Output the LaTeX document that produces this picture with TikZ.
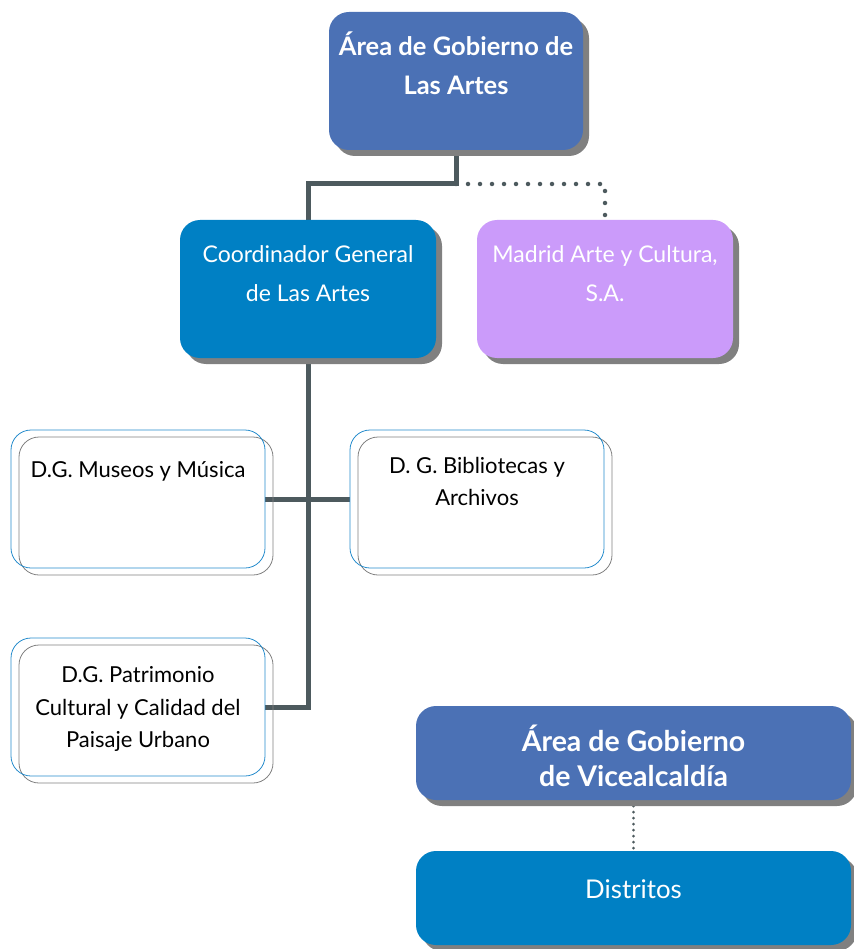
\documentclass[tikz,border=0pt]{standalone}
\usepackage{fontspec}
\setmainfont{Lato}
\usetikzlibrary{shadows,backgrounds,positioning}
\definecolor{govblue}{RGB}{75,113,181}
\definecolor{coordblue}{RGB}{0,128,196}
\definecolor{lilac}{RGB}{203,155,250}
\definecolor{shadowgray}{RGB}{128,128,128}
\definecolor{linegray}{RGB}{77,90,94}
\definecolor{rimblue}{RGB}{38,140,204}
\tikzset{
    unit/.style={rectangle, rounded corners=20pt, inner sep=0pt, align=center, text=white,
        drop shadow={shadow xshift=6pt, shadow yshift=-6pt, fill=shadowgray, opacity=1}},
    area/.style={unit, fill=govblue, font=\fontsize{25.5}{39}\selectfont\bfseries},
    office/.style={unit, fill=coordblue, font=\fontsize{23}{39}\selectfont},
    dept/.style={rectangle, rounded corners=20pt, inner sep=0pt, align=center, draw=rimblue, line width=0.8pt,
        minimum width=254pt, minimum height=138pt, font=\fontsize{22}{32.5}\selectfont,
        copy shadow={shadow xshift=8pt, shadow yshift=-7pt, draw=shadowgray, fill=none, line width=0.8pt}},
    lift/.style={text depth=#1},
    trunk/.style={draw=linegray, line width=5pt},
    dotline/.style={draw=linegray, line width=4.5pt, line cap=round, dash pattern=on 0pt off 12pt}
}
\begin{document}
\begin{tikzpicture}[x=1pt, y=-1pt]
    \useasboundingbox (0,0) rectangle (853,949);

    % Las Artes and the bodies under it
    \node [area, minimum width=254pt, minimum height=138pt, lift=36pt] (artes) at (456,81) {Área de Gobierno de\\Las Artes};
    \node [office, minimum width=256pt, minimum height=138pt, lift=30pt] (coord) at (308,289) {Coordinador General\\de Las Artes};
    \node [office, fill=lilac, minimum width=256pt, minimum height=138pt, lift=30pt] (madrid) at (605,289) {Madrid Arte y Cultura,\\S.A.};

    % Directorates
    \node [dept, lift=60pt] (museos) at (138,499) {D.G. Museos y Música};
    \node [dept, lift=35pt] (biblio) at (477,499) {D. G. Bibliotecas y\\Archivos};
    \node [dept, lift=0pt] (patri) at (138,707) {D.G. Patrimonio\\Cultural y Calidad del\\Paisaje Urbano};

    % Vicealcaldia
    \node [area, font=\fontsize{28.5}{35}\selectfont\bfseries, minimum width=435pt, minimum height=94pt, text height=66pt, text depth=0pt] (vice) at (633.5,753) {Área de Gobierno\\de Vicealcaldía};
    \node [office, font=\fontsize{25.8}{35}\selectfont, minimum width=435pt, minimum height=94pt, lift=17pt] (distritos) at (633.5,898) {Distritos};

    % Links
    \begin{scope}[on background layer]
        \coordinate (split) at (456,184);
        \draw [trunk] (artes.south) -- (split) -| (coord.north);
        \draw [dotline] (split) -| (madrid.north);
        \draw [trunk] (patri.east) -| (coord.south);
        \draw [trunk] (museos.east) -- (biblio.west);
        \draw [dotline, line width=3pt, dash pattern=on 0pt off 6pt] (vice.south) -- (distritos.north);
    \end{scope}
\end{tikzpicture}
\end{document}
